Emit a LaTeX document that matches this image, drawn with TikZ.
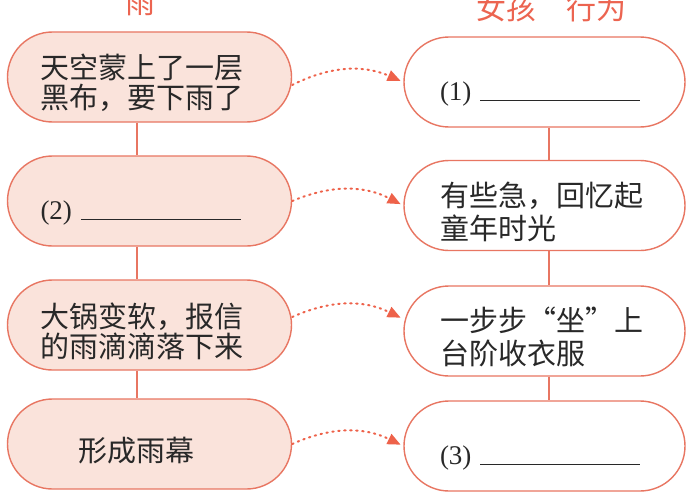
\documentclass[tikz,border=0pt]{standalone}
\usepackage{fontspec}
\setmainfont{Liberation Serif}
\newfontfamily\cjkfont{Noto Sans CJK SC}
\usepackage{tikz}
\usetikzlibrary{arrows.meta, positioning, calc}
\definecolor{cLine}{RGB}{232,118,98}
\definecolor{cPink}{RGB}{250,227,219}
\definecolor{cArrow}{RGB}{238,98,74}
\definecolor{cText}{RGB}{40,40,40}
\definecolor{cHead}{RGB}{236,100,80}
\tikzset{
  basebox/.style={rectangle, rounded corners=45pt, draw=cLine, line width=1.4pt,
                  minimum height=90pt, align=left, text=cText, text height=37pt,
                  font=\cjkfont\fontsize{29}{30}\selectfont},
  rainnode/.style={basebox, fill=cPink, text width=218pt, inner xsep=33pt},
  girlnode/.style={basebox, fill=white, text width=209pt, inner xsep=36pt,
                   font=\cjkfont\fontsize{29}{33}\selectfont},
  blanknode/.style={text height=36pt, text depth=0pt,
                    font=\rmfamily\fontsize{27}{30}\selectfont},
  headnode/.style={font=\cjkfont\fontsize{30}{30}\selectfont, text=cHead},
  link/.style={draw=cLine, line width=2.4pt},
  dotarrow/.style={-{Triangle[length=13pt,width=11pt]}, draw=cArrow, line width=2pt,
                   dash pattern=on 1.5pt off 4.5pt, line cap=round, shorten >=3pt,
                   bend left=25}
}
\newcommand{\blankline}{\rule[-1pt]{160pt}{1.3pt}}

\begin{document}
\begin{tikzpicture}[x=1pt, y=-1pt]
  \useasboundingbox (0,0) rectangle (693,495);
  \fill[white] (0,0) rectangle (693,495);
  \clip (0,0) rectangle (693,495);

  % Headers (cut off at the top)
  \node[headnode] (headrain) at (140,3) {雨};
  \node[headnode] (headgirl) at (551,8) {女孩　行为};

  % Rain column
  \node[rainnode] (rain1) at (149.5,77) {天空蒙上了一层\\黑布，要下雨了};
  \node[rainnode, blanknode] (rain2) at (149.5,201) {(2)\ \blankline};
  \node[rainnode] (rain3) at (149.5,325) {大锅变软，报信\\的雨滴滴落下来};
  \node[rainnode] (rain4) at (149.5,444) {\hspace*{38pt}形成雨幕};

  % Girl column
  \node[girlnode, blanknode] (girl1) at (544.5,82) {(1)\ \blankline};
  \node[girlnode] (girl2) at (544.5,205.5) {有些急，回忆起\\童年时光};
  \node[girlnode] (girl3) at (544.5,331) {一步步“坐”上\\台阶收衣服};
  \node[girlnode, blanknode] (girl4) at (544.5,446) {(3)\ \blankline};

  % Links inside each column
  \coordinate (rainx) at (137,0);
  \coordinate (girlx) at (549,0);
  \foreach \a/\b in {1/2,2/3,3/4} {
    \draw[link] (rain\a.south -| rainx) -- (rain\b.north -| rainx);
    \draw[link] (girl\a.south -| girlx) -- (girl\b.north -| girlx);
  }

  % Dotted arrows from rain to girl
  \draw[dotarrow] ([yshift=-8pt]rain1.east) to (girl1.west);
  \draw[dotarrow] (rain2.east) to (girl2.west);
  \draw[dotarrow] ([yshift=8pt]rain3.east) to ([yshift=12pt]girl3.west);
  \draw[dotarrow] (rain4.east) to (girl4.west);
\end{tikzpicture}
\end{document}
